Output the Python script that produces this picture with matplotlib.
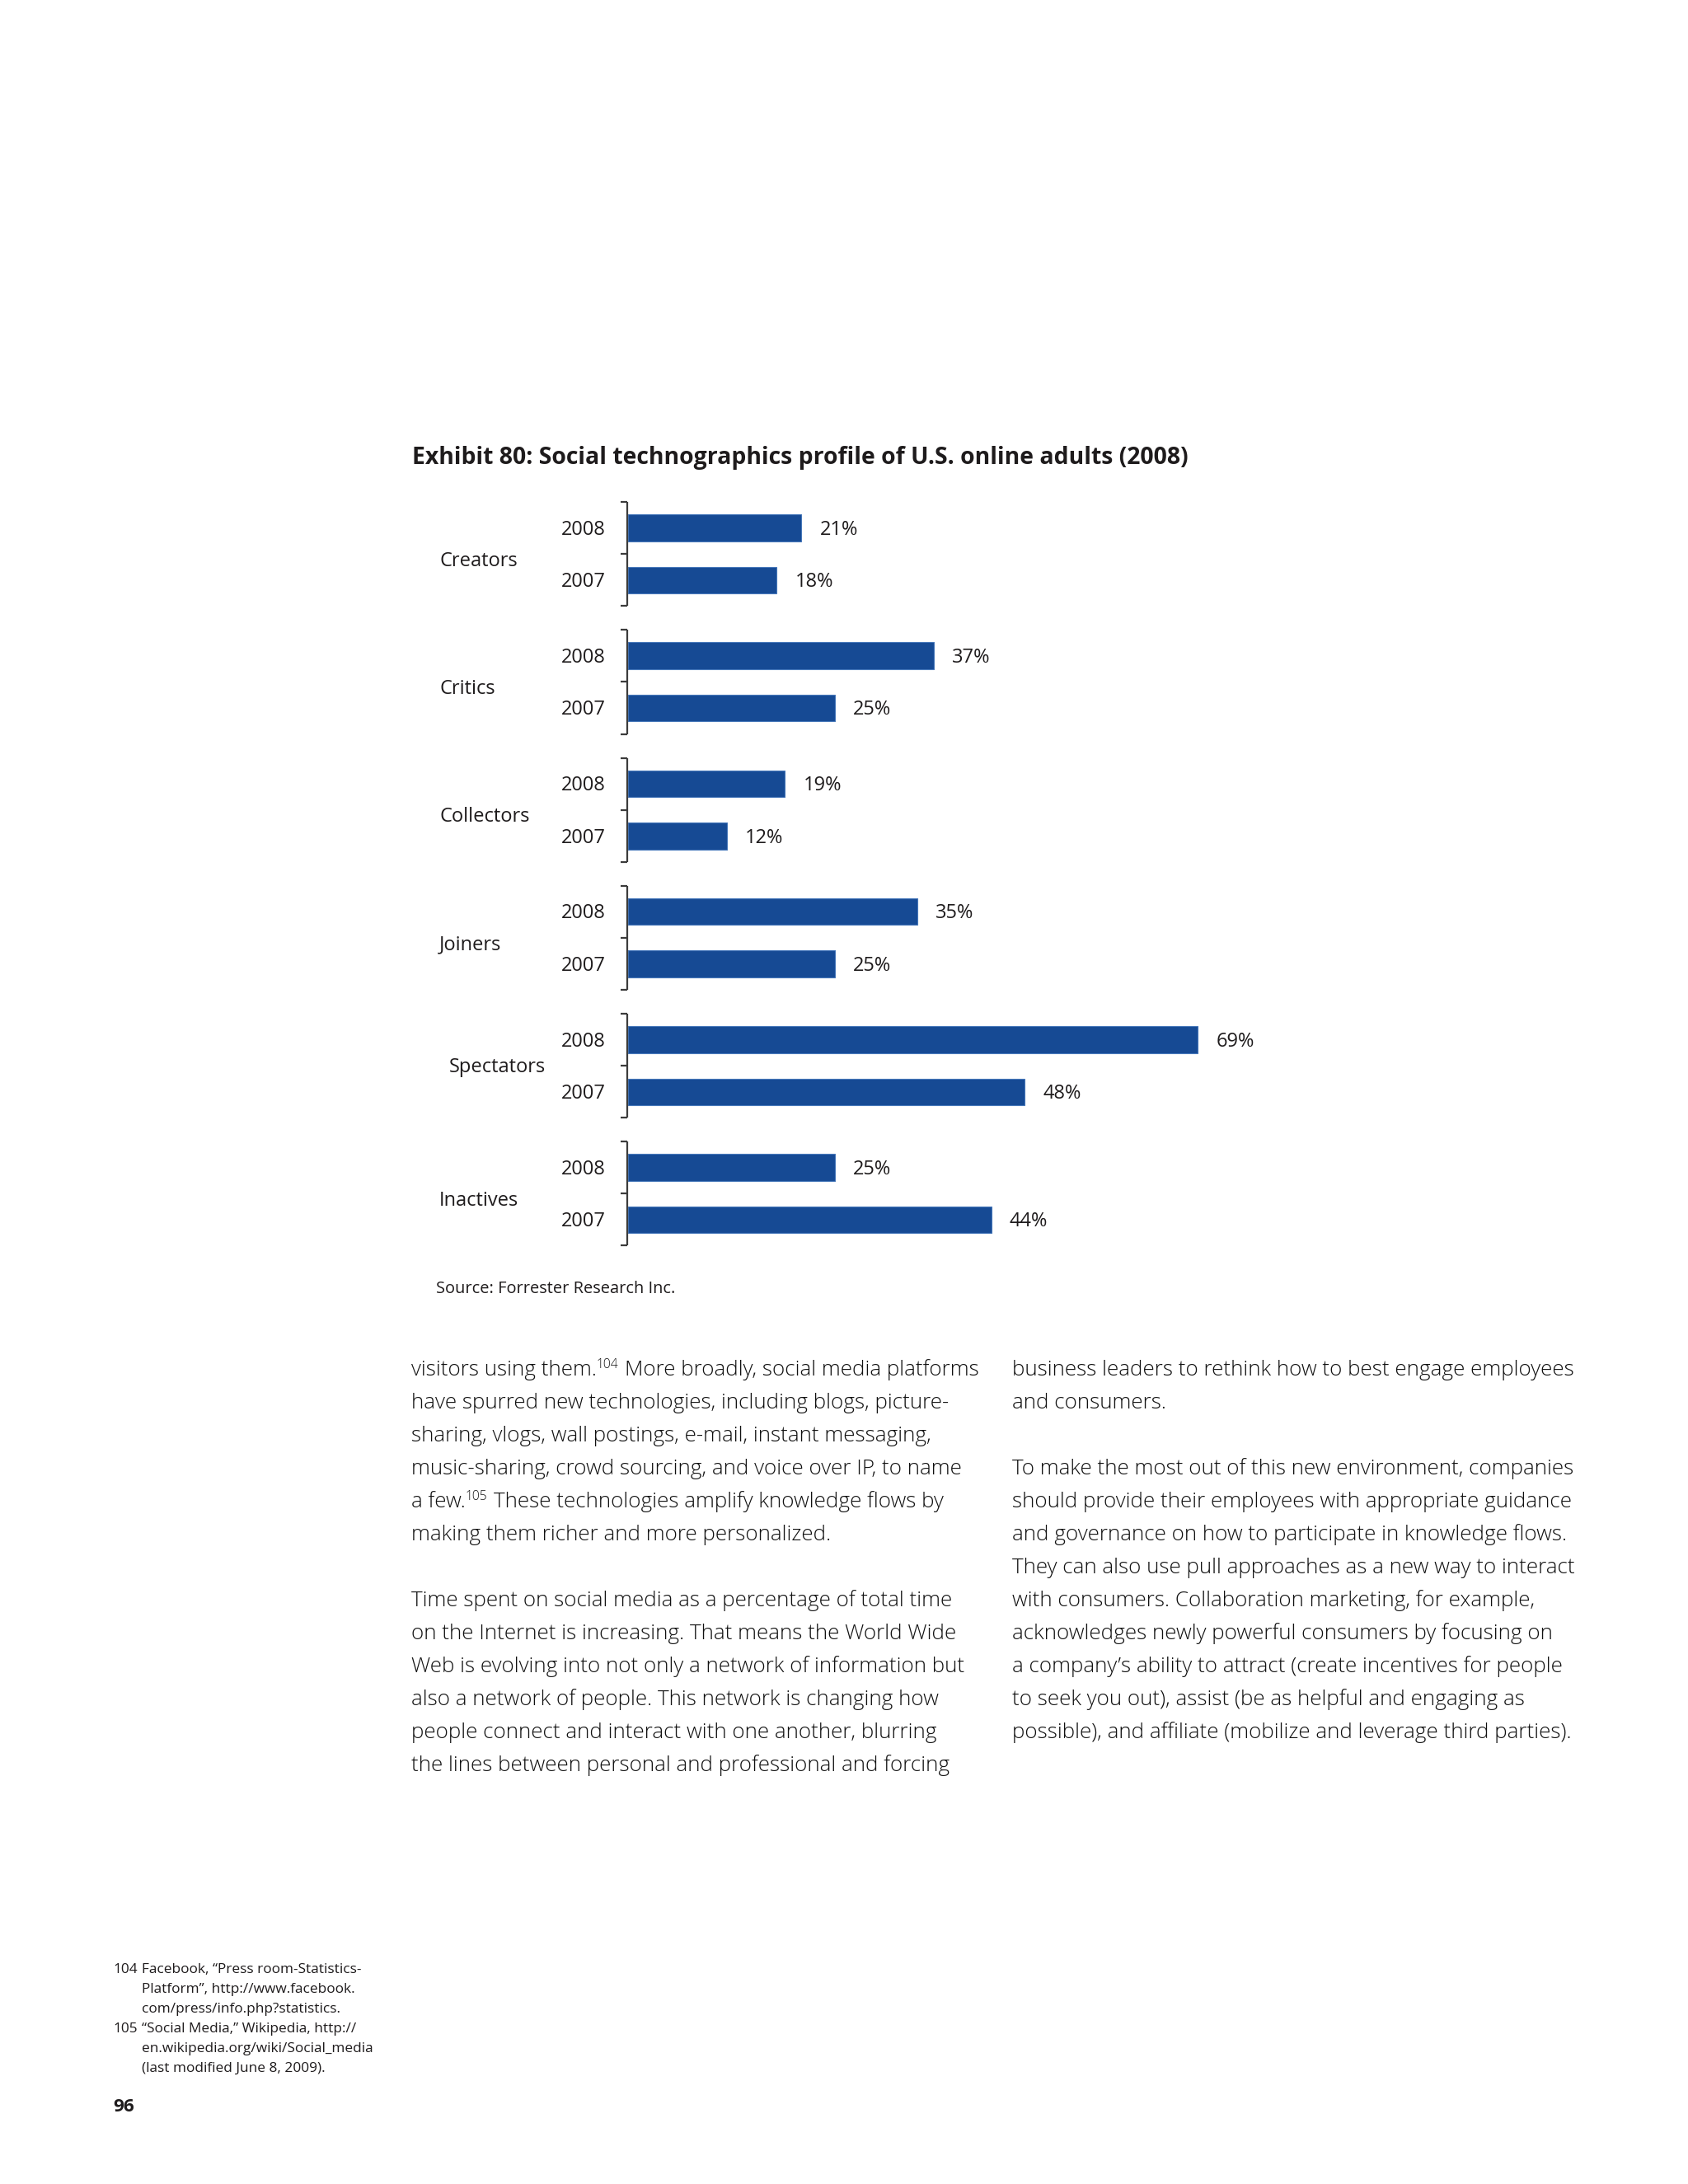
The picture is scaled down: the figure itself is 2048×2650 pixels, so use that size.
import re
import matplotlib
matplotlib.use("Agg")
import matplotlib.pyplot as plt
import numpy as np

# ---------------- data ----------------
categories = ["Creators", "Critics", "Collectors", "Joiners", "Spectators", "Inactives"]
years = ["2008", "2007"]
values_2008 = [21, 37, 19, 35, 69, 25]
values_2007 = [18, 25, 12, 25, 48, 44]

title = "Exhibit 80: Social technographics profile of U.S. online adults (2008)"
source = "Source: Forrester Research Inc."

left_column = [
    "visitors using them.^{104} More broadly, social media platforms",
    "have spurred new technologies, including blogs, picture-",
    "sharing, vlogs, wall postings, e-mail, instant messaging,",
    "music-sharing, crowd sourcing, and voice over IP, to name",
    "a few.^{105} These technologies amplify knowledge flows by",
    "making them richer and more personalized.",
    "",
    "Time spent on social media as a percentage of total time",
    "on the Internet is increasing. That means the World Wide",
    "Web is evolving into not only a network of information but",
    "also a network of people. This network is changing how",
    "people connect and interact with one another, blurring",
    "the lines between personal and professional and forcing",
]
right_column = [
    "business leaders to rethink how to best engage employees",
    "and consumers.",
    "",
    "To make the most out of this new environment, companies",
    "should provide their employees with appropriate guidance",
    "and governance on how to participate in knowledge flows.",
    "They can also use pull approaches as a new way to interact",
    "with consumers. Collaboration marketing, for example,",
    "acknowledges newly powerful consumers by focusing on",
    "a company\u2019s ability to attract (create incentives for people",
    "to seek you out), assist (be as helpful and engaging as",
    "possible), and affiliate (mobilize and leverage third parties).",
]
footnotes = [
    ("104", "Facebook, \u201cPress room-Statistics-"),
    ("", "Platform\u201d, http://www.facebook."),
    ("", "com/press/info.php?statistics."),
    ("105", "\u201cSocial Media,\u201d Wikipedia, http://"),
    ("", "en.wikipedia.org/wiki/Social_media"),
    ("", "(last modified June 8, 2009)."),
]
page_number = "96"

# ---------------- figure ----------------
W, H = 2048, 2650
DPI = 100
fig = plt.figure(figsize=(W / DPI, H / DPI), dpi=DPI)
fig.patch.set_facecolor("white")
renderer = fig.canvas.get_renderer()

FONT = ["Open Sans", "DejaVu Sans"]
TXT = "#1e1b1c"
BODY_TXT = "#111111"
BAR = "#164a94"
BAR_EDGE = "#4677b9"
LINE = "#3c3c3c"
LABEL_W = "normal"
BODY_W = "light"


def fx(x):
    return x / W


def fy(y):
    return 1 - y / H


def text_w(s, size, weight="normal"):
    t = fig.text(0, 0, s, fontsize=size, family=FONT, fontweight=weight)
    w = t.get_window_extent(renderer).width
    t.remove()
    return w


def fit_size(s, target, weight="normal", base=20.0):
    return base * target / text_w(s, base, weight)


# ---------------- chart ----------------
PX_UNIT = 63.5            # pixels between the two bars of a group
GROUP_STEP = 155.2 / PX_UNIT
X0_PX = 762
PX_PER_PCT = 10.02
Y0_PX = 640.5             # centre of first bar
Y_TOP, Y_BOT = -1.0, 14.5

ax = fig.add_axes([fx(X0_PX), fy(Y0_PX + Y_BOT * PX_UNIT),
                   100 * PX_PER_PCT / W, (Y_BOT - Y_TOP) * PX_UNIT / H])
ax.set_xlim(0, 100)
ax.set_ylim(Y_BOT, Y_TOP)
ax.axis("off")

group_y = np.arange(len(categories)) * GROUP_STEP
y08 = group_y
y07 = group_y + 1.0
bar_h = 32.5 / PX_UNIT

ax.barh(y08, values_2008, height=bar_h, color=BAR, edgecolor=BAR_EDGE, linewidth=0.8)
ax.barh(y07, values_2007, height=bar_h, color=BAR, edgecolor=BAR_EDGE, linewidth=0.8)

label_size = fit_size("2008", 54, LABEL_W)
base_off = 8.2 / PX_UNIT
half = 31.3 / PX_UNIT
tick_len = 8 / PX_PER_PCT
xline = -0.1

cat_nudge = {"Spectators": (1.2, -6.0)}   # (x in %, y in px)

for g, cat in enumerate(categories):
    top = y08[g] - half
    bot = y07[g] + half
    mid = (y08[g] + y07[g]) / 2
    ax.plot([xline, xline], [top, bot], color=LINE, lw=1.6, clip_on=False,
            solid_capstyle="butt")
    for yy in (top, mid, bot):
        ax.plot([xline - tick_len, xline], [yy, yy], color=LINE, lw=1.6,
                clip_on=False, solid_capstyle="butt")
    for yy, yr, v in ((y08[g], years[0], values_2008[g]), (y07[g], years[1], values_2007[g])):
        ax.text(-2.7, yy + base_off, yr, ha="right", va="baseline",
                fontsize=label_size, family=FONT, fontweight=LABEL_W, color=TXT, clip_on=False)
        ax.text(v + 2.2, yy + base_off, f"{v}%", ha="left", va="baseline",
                fontsize=label_size, family=FONT, fontweight=LABEL_W, color=TXT, clip_on=False)
    dx, dy = cat_nudge.get(cat, (0.0, 0.0))
    ax.text(-22.85 + dx, mid + (14.3 + dy) / PX_UNIT, cat, ha="left", va="baseline",
            fontsize=label_size, family=FONT, fontweight=LABEL_W, color=TXT, clip_on=False)

# title and source
title_size = fit_size(title, 941, "bold")
fig.text(fx(500), fy(563), title, fontsize=title_size, family=FONT,
         fontweight="bold", color=TXT, va="baseline", ha="left")
src_size = fit_size(source, 288, LABEL_W)
fig.text(fx(529), fy(1569), source, fontsize=src_size, family=FONT,
         fontweight=LABEL_W, color=TXT, va="baseline", ha="left")

# ---------------- body text ----------------
body_size = fit_size("To make the most out of this new environment, companies", 682, BODY_W)
sup_size = body_size * 0.6
em_px = body_size * DPI / 72
space_w = text_w("x x", body_size, BODY_W) - text_w("xx", body_size, BODY_W)


def draw_rich(x, y, line):
    parts = re.split(r"\^\{(\d+)\}", line)
    cur = x
    for i, p in enumerate(parts):
        if not p:
            continue
        is_sup = i % 2 == 1
        if not is_sup and p.startswith(" "):
            cur += space_w
            p = p.lstrip(" ")
        size = sup_size if is_sup else body_size
        yy = y - (0.33 * em_px if is_sup else 0)
        t = fig.text(fx(cur), fy(yy), p, fontsize=size, family=FONT,
                     fontweight=BODY_W, color=BODY_TXT, va="baseline", ha="left")
        cur += t.get_window_extent(renderer).width + (1 if is_sup else 0)


LINE_STEP = 40
for i, line in enumerate(left_column):
    if line:
        draw_rich(499, 1669 + i * LINE_STEP, line)
for i, line in enumerate(right_column):
    if line:
        draw_rich(1228, 1669 + i * LINE_STEP, line)

# ---------------- footnotes ----------------
fn_size = fit_size("en.wikipedia.org/wiki/Social_media", 280, LABEL_W)
for i, (num, txt) in enumerate(footnotes):
    yb = 2394 + i * 24
    if num:
        fig.text(fx(137), fy(yb), num, fontsize=fn_size, family=FONT,
                 fontweight=LABEL_W, color=TXT, va="baseline", ha="left")
    fig.text(fx(172), fy(yb), txt, fontsize=fn_size, family=FONT,
             fontweight=LABEL_W, color=TXT, va="baseline", ha="left")

pn_size = fit_size(page_number, 25.7, "bold")
fig.text(fx(137), fy(2562), page_number, fontsize=pn_size, family=FONT,
         fontweight="bold", color=TXT, va="baseline", ha="left")

fig.savefig("out.png", dpi=DPI, facecolor="white")
